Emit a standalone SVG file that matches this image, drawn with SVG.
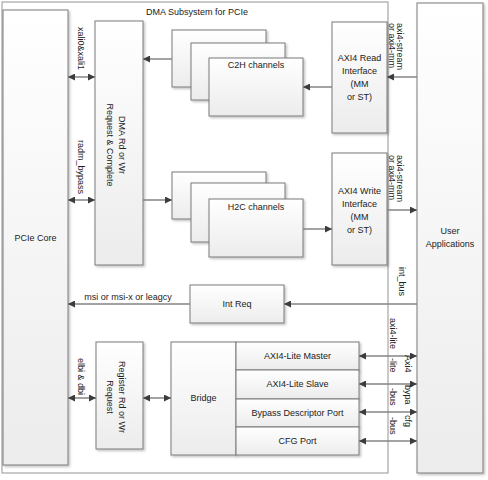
<svg xmlns="http://www.w3.org/2000/svg" width="488" height="480" viewBox="0 0 488 480">
<defs>
<linearGradient id="g" x1="0" y1="0" x2="0" y2="1">
<stop offset="0" stop-color="#ffffff"/>
<stop offset="1" stop-color="#ececec"/>
</linearGradient>
<filter id="sh" x="-10%" y="-10%" width="130%" height="130%">
<feDropShadow dx="1.5" dy="1.5" stdDeviation="0.8" flood-color="#000" flood-opacity="0.25"/>
</filter>
<marker id="ah" viewBox="0 0 8 8" refX="8" refY="4" markerWidth="8" markerHeight="7" markerUnits="userSpaceOnUse" orient="auto-start-reverse">
<path d="M0,0 L8,4 L0,8 z" fill="#3c3c3c"/>
</marker>
</defs>
<style>
.box{fill:url(#g);stroke:#7a7a7a;stroke-width:1;filter:url(#sh)}
.t{font-family:"Liberation Sans",Arial,sans-serif;font-size:9px;fill:#222}
.m{text-anchor:middle}
.c{stroke:#858585;stroke-width:1.5;fill:none}
.e{marker-end:url(#ah)}
.d{marker-start:url(#ah);marker-end:url(#ah)}
</style>
<g id="dma-subsystem">
<rect x="2" y="2" width="386" height="471" fill="none" stroke="#a6a6a6" stroke-width="1.2"/>
<text class="t m" x="197" y="15">DMA Subsystem for PCIe</text>
</g>
<g id="pcie-core">
<rect class="box" x="3" y="10" width="65" height="455"/>
<text class="t m" x="35.5" y="241">PCIe Core</text>
</g>
<g id="user-apps">
<rect class="box" x="417" y="3" width="66" height="470"/>
<text class="t m" x="450" y="234">User</text>
<text class="t m" x="450" y="247">Applications</text>
</g>
<g id="dma-rdwr">
<rect class="box" x="95" y="21" width="48" height="244"/>
<text class="t m" transform="translate(119,145) rotate(90)">DMA Rd or Wr</text>
<text class="t m" transform="translate(107,145) rotate(90)">Request &amp; Complete</text>
</g>
<g id="c2h">
<rect class="box" x="172" y="30" width="94" height="57"/>
<rect class="box" x="191" y="43" width="94" height="57"/>
<rect class="box" x="209" y="58" width="94" height="58"/>
<text class="t m" x="256" y="68">C2H channels</text>
</g>
<g id="h2c">
<rect class="box" x="172" y="172" width="94" height="47"/>
<rect class="box" x="191" y="183" width="94" height="59"/>
<rect class="box" x="209" y="199" width="94" height="58"/>
<text class="t m" x="256" y="210">H2C channels</text>
</g>
<g id="axi4-read">
<rect class="box" x="332" y="22" width="55" height="111"/>
<text class="t m" x="359.5" y="61">AXI4 Read</text>
<text class="t m" x="359.5" y="74">Interface</text>
<text class="t m" x="359.5" y="87">(MM</text>
<text class="t m" x="359.5" y="100">or ST)</text>
</g>
<g id="axi4-write">
<rect class="box" x="332" y="153" width="55" height="112"/>
<text class="t m" x="359.5" y="194">AXI4 Write</text>
<text class="t m" x="359.5" y="207">Interface</text>
<text class="t m" x="359.5" y="220">(MM</text>
<text class="t m" x="359.5" y="233">or ST)</text>
</g>
<g id="int-req">
<rect class="box" x="190" y="285" width="94" height="38"/>
<text class="t m" x="237" y="307">Int Req</text>
</g>
<g id="register-rdwr">
<rect class="box" x="96" y="342" width="47" height="107"/>
<text class="t m" transform="translate(119,397) rotate(90)">Register Rd or Wr</text>
<text class="t m" transform="translate(107,397) rotate(90)">Request</text>
</g>
<g id="bridge">
<rect class="box" x="171" y="342" width="65" height="113"/>
<text class="t m" x="203.5" y="401">Bridge</text>
</g>
<g id="axi4-lite-master">
<rect class="box" x="236" y="342" width="123" height="28"/>
<text class="t m" x="297.5" y="359">AXI4-Lite Master</text>
</g>
<g id="axi4-lite-slave">
<rect class="box" x="236" y="370" width="123" height="29"/>
<text class="t m" x="297.5" y="387">AXI4-Lite Slave</text>
</g>
<g id="bypass-port">
<rect class="box" x="236" y="399" width="123" height="28"/>
<text class="t m" x="297.5" y="416">Bypass Descriptor Port</text>
</g>
<g id="cfg-port">
<rect class="box" x="236" y="427" width="123" height="28"/>
<text class="t m" x="297.5" y="444">CFG Port</text>
</g>
<g id="connectors">
<line class="c d" x1="68" y1="77" x2="95" y2="77"/>
<line class="c d" x1="68" y1="200" x2="95" y2="200"/>
<line class="c e" x1="417" y1="77" x2="387" y2="77"/>
<line class="c e" x1="332" y1="87" x2="303" y2="87"/>
<line class="c e" x1="172" y1="59" x2="143" y2="59"/>
<line class="c e" x1="143" y1="200" x2="172" y2="200"/>
<line class="c e" x1="303" y1="229" x2="332" y2="229"/>
<line class="c e" x1="387" y1="210" x2="417" y2="210"/>
<line class="c e" x1="417" y1="304" x2="284" y2="304"/>
<line class="c e" x1="190" y1="304" x2="68" y2="304"/>
<line class="c d" x1="68" y1="398" x2="96" y2="398"/>
<line class="c d" x1="143" y1="398" x2="171" y2="398"/>
<line class="c d" x1="359" y1="356" x2="417" y2="356"/>
<line class="c d" x1="359" y1="384" x2="417" y2="384"/>
<line class="c d" x1="359" y1="412" x2="417" y2="412"/>
<line class="c d" x1="359" y1="441" x2="417" y2="441"/>
<text class="t" transform="translate(78,27) rotate(90)">xali0&amp;xali1</text>
<text class="t" transform="translate(78,140) rotate(90)">radm_bypass</text>
<text class="t" transform="translate(78,358) rotate(90)">elbi &amp; dbi</text>
<text class="t m" x="128" y="300">msi or msi-x or leagcy</text>
<text class="t" transform="translate(397,23) rotate(90)">axi4-stream</text>
<text class="t" transform="translate(389,23) rotate(90)">or axi4-mm</text>
<text class="t" transform="translate(397,155) rotate(90)">axi4-stream</text>
<text class="t" transform="translate(389,155) rotate(90)">or axi4-mm</text>
<text class="t" transform="translate(399,267) rotate(90)">int_bus</text>
<text class="t" transform="translate(390,318) rotate(90)">axi4-lite</text>
<text class="t" transform="translate(390,358) rotate(90)">-lite</text>
<text class="t" transform="translate(390,388) rotate(90)">-bus</text>
<text class="t" transform="translate(390,417) rotate(90)">-bus</text>
<text class="t" transform="translate(405,355) rotate(90)">Axi4</text>
<text class="t" transform="translate(405,385) rotate(90)">bypa</text>
<text class="t" transform="translate(405,415) rotate(90)">cfg</text>
</g>
</svg>
